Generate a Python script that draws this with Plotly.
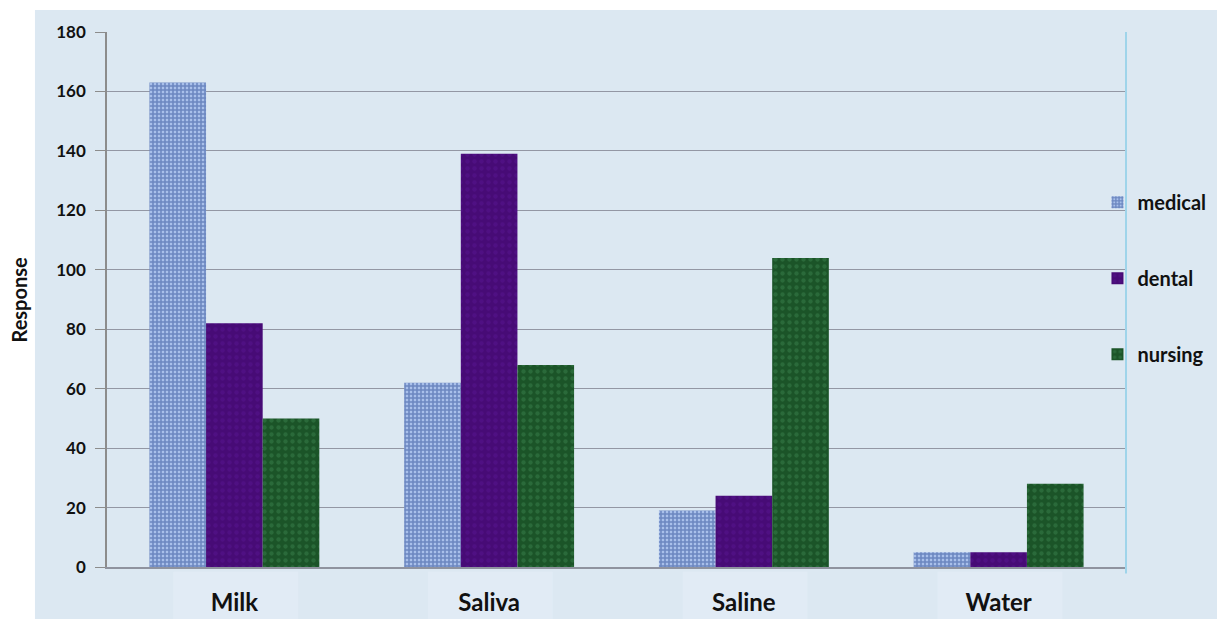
import plotly.graph_objects as go

# Survey responses by storage medium
categories = ["Milk", "Saliva", "Saline", "Water"]
medical = [163, 62, 19, 5]
dental = [82, 139, 24, 5]
nursing = [50, 68, 104, 28]
y_ticks = [0, 20, 40, 60, 80, 100, 120, 140, 160, 180]

FONT = "Lato"

fig = go.Figure()

fig.add_trace(go.Bar(
    name="medical", x=categories, y=medical, legendgroup="a",
    marker=dict(color="#7f9bd4", line=dict(width=0),
                pattern=dict(shape="+", fgcolor="#2e4d96", bgcolor="#a9c0ea",
                             size=4, solidity=0.62)),
))
fig.add_trace(go.Bar(
    name="dental", x=categories, y=dental, legendgroup="b",
    marker=dict(color="#4b0d7d", line=dict(width=0),
                pattern=dict(shape=".", fgcolor="#58168f", bgcolor="#470b76",
                             size=7, solidity=0.3)),
))
fig.add_trace(go.Bar(
    name="nursing", x=categories, y=nursing, legendgroup="c",
    marker=dict(color="#1d5a2b", line=dict(width=0),
                pattern=dict(shape=".", fgcolor="#3a7f4c", bgcolor="#1b5428",
                             size=7, solidity=0.3)),
))

shapes = [
    # light-blue chart area behind the plot
    dict(type="rect", xref="paper", yref="paper", layer="below",
         x0=-0.0707, x1=1.1, y0=-0.1, y1=1.041,
         fillcolor="#dce8f2", line=dict(width=0)),
    # right border of the plot area
    dict(type="line", xref="paper", yref="paper", layer="above",
         x0=1, x1=1, y0=-0.012, y1=1.0,
         line=dict(color="#9fd4ea", width=2)),
]
# lighter boxes behind the category labels
for i, _ in enumerate(categories):
    shapes.append(dict(type="rect", xref="x", yref="paper", layer="below",
                       x0=i - 0.24, x1=i + 0.25, y0=-0.1, y1=-0.009,
                       fillcolor="#e1ebf5", line=dict(width=0)))

fig.update_layout(
    width=1217, height=619,
    margin=dict(l=107, r=91, t=32, b=52, autoexpand=False),
    paper_bgcolor="white",
    plot_bgcolor="#dfe3f4",
    barmode="group",
    bargap=0.333,
    bargroupgap=0,
    font=dict(family=FONT, color="#111111"),
    shapes=shapes,
    showlegend=True,
    legend=dict(
        x=0.972, xanchor="left", y=0.718, yanchor="top",
        bgcolor="rgba(0,0,0,0)",
        font=dict(family=FONT, size=20, color="#111111", weight="bold"),
        tracegroupgap=47,
    ),
    annotations=[
        dict(text="<b>Response</b>", textangle=-90, xref="paper", yref="paper",
             x=-0.0873, y=0.5, xanchor="center", yanchor="middle",
             showarrow=False, font=dict(family=FONT, size=20, color="#111111")),
    ],
)

fig.update_xaxes(
    automargin=False,
    showgrid=False, showline=True, linecolor="#8f939f", linewidth=1.5,
    ticks="", ticklabelstandoff=13,
    tickfont=dict(family=FONT, size=24, color="#111111", weight="bold"),
)
fig.update_yaxes(
    automargin=False,
    range=[0, 180], tickvals=y_ticks,
    showgrid=True, gridcolor="#9397a4", gridwidth=1.3,
    showline=True, linecolor="#8c8c8c", linewidth=1.5,
    ticks="outside", ticklen=10, tickcolor="#8c8c8c", tickwidth=1.3,
    ticklabelstandoff=6, zeroline=False,
    tickfont=dict(family=FONT, size=17, color="#111111", weight="bold"),
)

fig.write_html("out.html")
